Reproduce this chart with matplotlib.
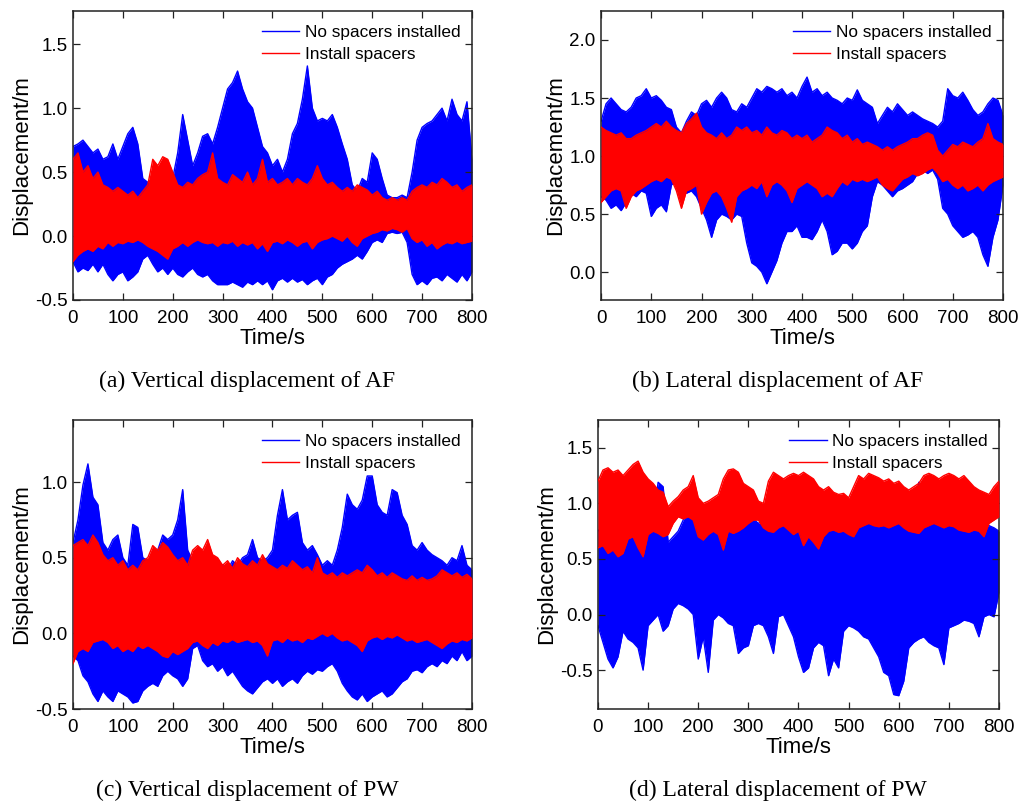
import numpy as np
import matplotlib
matplotlib.use("Agg")
import matplotlib.pyplot as plt

time = np.arange(0, 801, 10)

# (a) vertical displacement of AF
a_blue_top = [0.70, 0.72, 0.75, 0.70, 0.65, 0.68, 0.60, 0.62, 0.72, 0.60,
              0.70, 0.80, 0.85, 0.72, 0.45, 0.42, 0.45, 0.50, 0.48, 0.50,
              0.45, 0.65, 0.95, 0.75, 0.55, 0.65, 0.78, 0.80, 0.72, 0.85,
              1.00, 1.15, 1.20, 1.29, 1.15, 1.05, 1.00, 0.85, 0.70, 0.65,
              0.55, 0.60, 0.50, 0.60, 0.80, 0.88, 1.07, 1.33, 1.00, 0.90,
              0.92, 0.90, 0.95, 0.85, 0.72, 0.60, 0.40, 0.35, 0.45, 0.42,
              0.65, 0.60, 0.45, 0.32, 0.30, 0.30, 0.32, 0.30, 0.50, 0.75,
              0.85, 0.88, 0.90, 0.95, 1.00, 0.90, 1.07, 0.95, 0.90, 1.05, 0.60]
a_blue_bot = [-0.20, -0.28, -0.25, -0.27, -0.22, -0.28, -0.22, -0.30, -0.35, -0.30,
              -0.28, -0.35, -0.32, -0.28, -0.18, -0.15, -0.22, -0.28, -0.25, -0.30,
              -0.25, -0.30, -0.32, -0.28, -0.25, -0.30, -0.32, -0.30, -0.35, -0.38,
              -0.38, -0.38, -0.36, -0.38, -0.40, -0.36, -0.38, -0.35, -0.38, -0.35,
              -0.42, -0.35, -0.33, -0.36, -0.33, -0.36, -0.34, -0.38, -0.35, -0.33,
              -0.38, -0.32, -0.30, -0.25, -0.22, -0.20, -0.18, -0.15, -0.18, -0.12,
              -0.05, -0.03, -0.05, 0.02, 0.03, 0.02, 0.03, -0.05, -0.30, -0.38,
              -0.35, -0.38, -0.33, -0.32, -0.35, -0.30, -0.33, -0.36, -0.30, -0.35, -0.28]
a_red_top = [0.60, 0.65, 0.50, 0.55, 0.45, 0.50, 0.40, 0.38, 0.35, 0.38,
             0.35, 0.32, 0.35, 0.30, 0.35, 0.40, 0.60, 0.55, 0.62, 0.60,
             0.50, 0.40, 0.38, 0.42, 0.40, 0.45, 0.48, 0.50, 0.65, 0.45,
             0.42, 0.40, 0.48, 0.45, 0.42, 0.50, 0.40, 0.45, 0.60, 0.42,
             0.45, 0.40, 0.42, 0.45, 0.40, 0.45, 0.42, 0.40, 0.45, 0.55,
             0.45, 0.40, 0.42, 0.38, 0.35, 0.38, 0.35, 0.40, 0.38, 0.36,
             0.32, 0.35, 0.30, 0.28, 0.30, 0.28, 0.30, 0.28, 0.35, 0.38,
             0.40, 0.38, 0.42, 0.40, 0.45, 0.42, 0.38, 0.40, 0.35, 0.38, 0.40]
a_red_bot = [-0.20, -0.15, -0.12, -0.10, -0.12, -0.08, -0.10, -0.05, -0.08, -0.05,
             -0.06, -0.04, -0.05, -0.03, -0.05, -0.08, -0.10, -0.12, -0.15, -0.18,
             -0.10, -0.08, -0.05, -0.08, -0.05, -0.03, -0.05, -0.06, -0.05, -0.08,
             -0.05, -0.06, -0.04, -0.08, -0.05, -0.07, -0.05, -0.10, -0.06, -0.12,
             -0.05, -0.04, -0.06, -0.03, -0.05, -0.08, -0.05, -0.04, -0.10, -0.05,
             -0.03, -0.02, 0.00, -0.02, -0.04, 0.00, -0.05, -0.08, -0.02, 0.00,
             0.02, 0.03, 0.05, 0.04, 0.06, 0.05, 0.03, 0.06, -0.02, -0.05,
             -0.03, -0.08, -0.05, -0.10, -0.07, -0.05, -0.06, -0.04, -0.06, -0.05, -0.04]

# (b) lateral displacement of AF
b_blue_top = [1.30, 1.45, 1.50, 1.45, 1.40, 1.38, 1.42, 1.50, 1.52, 1.58,
              1.50, 1.52, 1.48, 1.42, 1.40, 1.25, 1.20, 1.30, 1.38, 1.35,
              1.45, 1.48, 1.42, 1.50, 1.55, 1.50, 1.40, 1.38, 1.45, 1.42,
              1.50, 1.58, 1.55, 1.60, 1.58, 1.55, 1.58, 1.52, 1.55, 1.50,
              1.60, 1.68, 1.55, 1.58, 1.52, 1.55, 1.50, 1.48, 1.45, 1.50,
              1.48, 1.57, 1.48, 1.45, 1.42, 1.28, 1.35, 1.42, 1.38, 1.45,
              1.40, 1.35, 1.38, 1.35, 1.32, 1.30, 1.28, 1.25, 1.30, 1.58,
              1.52, 1.50, 1.55, 1.48, 1.40, 1.35, 1.38, 1.45, 1.50, 1.48, 1.35]
b_blue_bot = [0.65, 0.62, 0.55, 0.58, 0.53, 0.60, 0.68, 0.65, 0.70, 0.68,
              0.48, 0.55, 0.58, 0.52, 0.75, 0.80, 0.72, 0.68, 0.70, 0.65,
              0.55, 0.45, 0.30, 0.45, 0.50, 0.48, 0.45, 0.50, 0.48, 0.25,
              0.08, 0.05, 0.00, -0.10, 0.00, 0.10, 0.25, 0.35, 0.35, 0.40,
              0.30, 0.30, 0.28, 0.35, 0.45, 0.35, 0.15, 0.18, 0.25, 0.25,
              0.20, 0.25, 0.35, 0.40, 0.65, 0.78, 0.75, 0.70, 0.65, 0.70,
              0.72, 0.75, 0.78, 0.85, 0.88, 0.85, 0.88, 0.80, 0.55, 0.50,
              0.40, 0.35, 0.30, 0.32, 0.35, 0.30, 0.15, 0.05, 0.30, 0.45, 0.75]
b_red_top = [1.25, 1.22, 1.20, 1.18, 1.20, 1.15, 1.15, 1.18, 1.20, 1.22,
             1.25, 1.28, 1.25, 1.30, 1.25, 1.22, 1.20, 1.28, 1.32, 1.37,
             1.25, 1.20, 1.18, 1.15, 1.20, 1.15, 1.18, 1.25, 1.22, 1.25,
             1.20, 1.22, 1.18, 1.25, 1.20, 1.18, 1.22, 1.20, 1.15, 1.18,
             1.15, 1.18, 1.12, 1.15, 1.18, 1.25, 1.22, 1.20, 1.15, 1.18,
             1.12, 1.15, 1.10, 1.12, 1.10, 1.08, 1.05, 1.08, 1.05, 1.08,
             1.10, 1.12, 1.15, 1.15, 1.18, 1.20, 1.18, 1.05, 1.00, 1.05,
             1.10, 1.08, 1.12, 1.10, 1.08, 1.12, 1.15, 1.28, 1.15, 1.12, 1.10]
b_red_bot = [0.60, 0.65, 0.70, 0.72, 0.70, 0.55, 0.65, 0.70, 0.72, 0.75,
             0.78, 0.80, 0.78, 0.82, 0.80, 0.70, 0.55, 0.70, 0.72, 0.75,
             0.50, 0.60, 0.68, 0.70, 0.65, 0.55, 0.43, 0.65, 0.70, 0.72,
             0.75, 0.72, 0.78, 0.65, 0.75, 0.78, 0.75, 0.70, 0.60, 0.72,
             0.75, 0.78, 0.75, 0.72, 0.65, 0.68, 0.65, 0.72, 0.78, 0.75,
             0.80, 0.78, 0.80, 0.78, 0.80, 0.82, 0.75, 0.72, 0.70, 0.75,
             0.80, 0.82, 0.85, 0.83, 0.85, 0.88, 0.90, 0.85, 0.78, 0.80,
             0.75, 0.72, 0.75, 0.70, 0.72, 0.75, 0.70, 0.75, 0.78, 0.80, 0.82]

# (c) vertical displacement of PW
c_blue_top = [0.60, 0.75, 0.98, 1.12, 0.90, 0.85, 0.60, 0.55, 0.62, 0.65,
              0.50, 0.45, 0.72, 0.70, 0.50, 0.48, 0.45, 0.55, 0.65, 0.62,
              0.65, 0.75, 0.95, 0.55, 0.48, 0.45, 0.45, 0.42, 0.45, 0.48,
              0.45, 0.42, 0.48, 0.45, 0.50, 0.52, 0.62, 0.50, 0.48, 0.50,
              0.55, 0.78, 0.95, 0.75, 0.78, 0.80, 0.60, 0.55, 0.58, 0.52,
              0.45, 0.48, 0.45, 0.55, 0.70, 0.92, 0.85, 0.82, 0.88, 1.04,
              1.04, 0.85, 0.80, 0.78, 0.95, 0.93, 0.78, 0.72, 0.58, 0.55,
              0.60, 0.55, 0.52, 0.50, 0.48, 0.45, 0.50, 0.48, 0.58, 0.45, 0.42]
c_blue_bot = [-0.15, -0.18, -0.28, -0.32, -0.40, -0.45, -0.38, -0.42, -0.45, -0.38,
              -0.40, -0.42, -0.46, -0.45, -0.38, -0.35, -0.33, -0.35, -0.28, -0.25,
              -0.28, -0.30, -0.35, -0.30, -0.10, -0.08, -0.18, -0.22, -0.20, -0.25,
              -0.22, -0.28, -0.25, -0.30, -0.35, -0.38, -0.40, -0.36, -0.32, -0.30,
              -0.33, -0.30, -0.35, -0.32, -0.30, -0.33, -0.28, -0.25, -0.27, -0.24,
              -0.25, -0.22, -0.20, -0.25, -0.33, -0.38, -0.42, -0.44, -0.40, -0.45,
              -0.42, -0.40, -0.38, -0.42, -0.40, -0.36, -0.32, -0.30, -0.25, -0.24,
              -0.26, -0.22, -0.20, -0.22, -0.18, -0.20, -0.15, -0.18, -0.12, -0.18, -0.15]
c_red_top = [0.58, 0.60, 0.62, 0.58, 0.65, 0.60, 0.52, 0.48, 0.50, 0.45,
             0.48, 0.42, 0.45, 0.42, 0.48, 0.50, 0.58, 0.55, 0.60, 0.57,
             0.52, 0.48, 0.50, 0.45, 0.55, 0.58, 0.55, 0.62, 0.52, 0.50,
             0.45, 0.48, 0.43, 0.50, 0.46, 0.44, 0.48, 0.45, 0.52, 0.46,
             0.44, 0.42, 0.45, 0.43, 0.48, 0.45, 0.42, 0.44, 0.40, 0.50,
             0.40, 0.38, 0.40, 0.37, 0.40, 0.38, 0.40, 0.42, 0.40, 0.45,
             0.42, 0.38, 0.40, 0.37, 0.40, 0.38, 0.36, 0.35, 0.38, 0.35,
             0.37, 0.35, 0.36, 0.38, 0.42, 0.40, 0.38, 0.40, 0.37, 0.39, 0.36]
c_red_bot = [-0.20, -0.12, -0.10, -0.12, -0.06, -0.05, -0.04, -0.06, -0.10, -0.08,
             -0.12, -0.10, -0.12, -0.08, -0.10, -0.08, -0.10, -0.12, -0.15, -0.16,
             -0.12, -0.14, -0.12, -0.10, -0.06, -0.05, -0.08, -0.10, -0.06, -0.08,
             -0.05, -0.06, -0.04, -0.06, -0.05, -0.04, -0.06, -0.05, -0.08, -0.15,
             -0.05, -0.04, -0.06, -0.03, -0.05, -0.04, -0.06, -0.03, -0.04, -0.02,
             0.00, -0.02, 0.00, -0.03, -0.05, -0.04, -0.06, -0.08, -0.12, -0.05,
             -0.03, -0.02, -0.04, -0.02, -0.03, -0.01, -0.03, -0.05, -0.04, -0.06,
             -0.05, -0.04, -0.06, -0.08, -0.10, -0.07, -0.05, -0.06, -0.04, -0.05, -0.03]

# (d) lateral displacement of PW
d_blue_top = [0.75, 0.80, 0.82, 0.80, 0.78, 0.82, 0.80, 0.95, 0.82, 0.80,
              0.78, 0.85, 1.19, 1.15, 0.65, 0.70, 0.75, 0.85, 0.95, 0.92,
              0.85, 0.82, 0.85, 0.80, 0.78, 0.80, 0.85, 0.82, 0.85, 0.80,
              0.85, 0.86, 0.82, 0.85, 0.88, 0.90, 0.88, 0.90, 0.95, 0.97,
              0.90, 0.85, 0.86, 0.84, 0.85, 0.83, 0.85, 0.80, 0.76, 0.75,
              0.78, 0.76, 0.85, 0.94, 0.95, 0.92, 0.88, 0.85, 0.86, 0.84,
              0.85, 0.86, 0.90, 0.88, 1.19, 0.92, 0.90, 0.88, 0.90, 0.88,
              0.85, 0.86, 0.84, 0.85, 0.83, 0.82, 0.80, 0.79, 0.80, 0.78, 0.75]
d_blue_bot = [-0.10, -0.25, -0.40, -0.48, -0.38, -0.15, -0.22, -0.25, -0.30, -0.50,
              -0.10, -0.05, 0.00, -0.15, -0.10, 0.05, 0.10, 0.08, 0.05, 0.00,
              -0.40, -0.20, -0.52, -0.05, 0.00, -0.03, -0.08, -0.10, -0.35, -0.30,
              -0.28, -0.10, -0.08, -0.10, -0.20, -0.35, -0.02, 0.00, -0.10, -0.20,
              -0.38, -0.52, -0.48, -0.30, -0.25, -0.28, -0.55, -0.40, -0.48, -0.15,
              -0.10, -0.12, -0.15, -0.20, -0.22, -0.30, -0.38, -0.52, -0.55, -0.72,
              -0.73, -0.60, -0.30, -0.25, -0.22, -0.20, -0.25, -0.28, -0.30, -0.45,
              -0.12, -0.10, -0.08, -0.05, -0.06, -0.08, -0.20, -0.02, 0.00, -0.02, 0.20]
d_red_top = [1.20, 1.30, 1.32, 1.28, 1.30, 1.25, 1.30, 1.35, 1.38, 1.28,
             1.22, 1.18, 1.12, 1.10, 0.97, 1.02, 1.06, 1.12, 1.15, 1.25,
             1.05, 1.00, 1.02, 1.05, 1.08, 1.22, 1.30, 1.31, 1.28, 1.18,
             1.15, 1.12, 1.02, 1.00, 1.20, 1.28, 1.25, 1.22, 1.25, 1.27,
             1.25, 1.28, 1.25, 1.22, 1.15, 1.12, 1.15, 1.10, 1.08, 1.09,
             1.05, 1.15, 1.25, 1.22, 1.27, 1.25, 1.23, 1.20, 1.22, 1.18,
             1.20, 1.15, 1.12, 1.15, 1.18, 1.25, 1.27, 1.25, 1.22, 1.25,
             1.27, 1.25, 1.22, 1.25, 1.20, 1.15, 1.12, 1.10, 1.08, 1.15, 1.20]
d_red_bot = [0.60, 0.62, 0.55, 0.58, 0.52, 0.55, 0.68, 0.70, 0.60, 0.52,
             0.72, 0.75, 0.73, 0.70, 0.72, 0.82, 0.88, 0.86, 0.88, 0.85,
             0.70, 0.67, 0.72, 0.75, 0.72, 0.58, 0.75, 0.73, 0.75, 0.78,
             0.82, 0.85, 0.85, 0.78, 0.75, 0.74, 0.78, 0.80, 0.76, 0.72,
             0.75, 0.62, 0.70, 0.65, 0.59, 0.70, 0.75, 0.76, 0.74, 0.75,
             0.72, 0.70, 0.78, 0.80, 0.82, 0.80, 0.79, 0.80, 0.78, 0.80,
             0.82, 0.78, 0.75, 0.74, 0.73, 0.78, 0.80, 0.82, 0.80, 0.78,
             0.80, 0.79, 0.76, 0.75, 0.74, 0.76, 0.75, 0.70, 0.82, 0.85, 0.88]

captions = ["(a) Vertical displacement of AF", "(b) Lateral displacement of AF",
            "(c) Vertical displacement of PW", "(d) Lateral displacement of PW"]
labels = ["No spacers installed", "Install spacers"]

plt.rcParams["font.family"] = ["Liberation Sans", "DejaVu Sans"]
plt.rcParams["axes.unicode_minus"] = False

fig = plt.figure(figsize=(10.22, 8.06), dpi=100)


def panel(rect, blue_top, blue_bot, red_top, red_bot, ylim, yticks):
    ax = fig.add_axes(rect)
    # red drawn over blue, each band as fill plus its ragged edges
    for z, (top, bot, col, lab) in enumerate([(blue_top, blue_bot, "#0000ff", labels[0]),
                                              (red_top, red_bot, "#ff0000", labels[1])]):
        ax.fill_between(time, bot, top, color=col, lw=0, zorder=2 * z + 1)
        ax.plot(time, top, color=col, lw=1.0, label=lab, zorder=2 * z + 1.5)
        ax.plot(time, bot, color=col, lw=1.0, zorder=2 * z + 1.5)
    ax.set_xlim(0, 800)
    ax.set_ylim(*ylim)
    ax.set_xticks(range(0, 801, 100))
    ax.set_yticks(yticks)
    ax.yaxis.set_major_formatter(matplotlib.ticker.FormatStrFormatter("%.1f"))
    for sp in ax.spines.values():
        sp.set_linewidth(1.1)
        sp.set_color("#222222")
    ax.tick_params(direction="in", top=True, right=True, length=5, width=0.9,
                   color="#222222", labelsize=13.5)
    ax.tick_params(axis="x", pad=7)
    ax.tick_params(axis="y", pad=4)
    ax.set_xlabel("Time/s", fontsize=16, labelpad=1)
    ax.set_ylabel("Displacement/m", fontsize=16, labelpad=2)
    ax.legend(loc="upper right", bbox_to_anchor=(0.988, 0.975), frameon=False,
              fontsize=12.4, handlelength=2.2, handletextpad=0.3,
              labelspacing=0.38, borderaxespad=0.0)
    return ax


panel([0.0714, 0.6278, 0.3904, 0.3586], a_blue_top, a_blue_bot, a_red_top, a_red_bot,
      (-0.5, 1.76), [-0.5, 0.0, 0.5, 1.0, 1.5])
panel([0.5881, 0.6278, 0.3933, 0.3586], b_blue_top, b_blue_bot, b_red_top, b_red_bot,
      (-0.24, 2.25), [0.0, 0.5, 1.0, 1.5, 2.0])
panel([0.0714, 0.1203, 0.3904, 0.3586], c_blue_top, c_blue_bot, c_red_top, c_red_bot,
      (-0.5, 1.41), [-0.5, 0.0, 0.5, 1.0])
panel([0.5851, 0.1203, 0.3924, 0.3586], d_blue_top, d_blue_bot, d_red_top, d_red_bot,
      (-0.85, 1.75), [-0.5, 0.0, 0.5, 1.0, 1.5])

cap_pos = [(247 / 1022, 1 - 381 / 806), (778 / 1022, 1 - 381 / 806),
           (247 / 1022, 1 - 790 / 806), (778 / 1022, 1 - 790 / 806)]
for (x, y), txt in zip(cap_pos, captions):
    fig.text(x, y, txt, ha="center", va="center", fontsize=17,
             family=["Liberation Serif", "DejaVu Serif"])

fig.savefig("out.png", dpi=100)
